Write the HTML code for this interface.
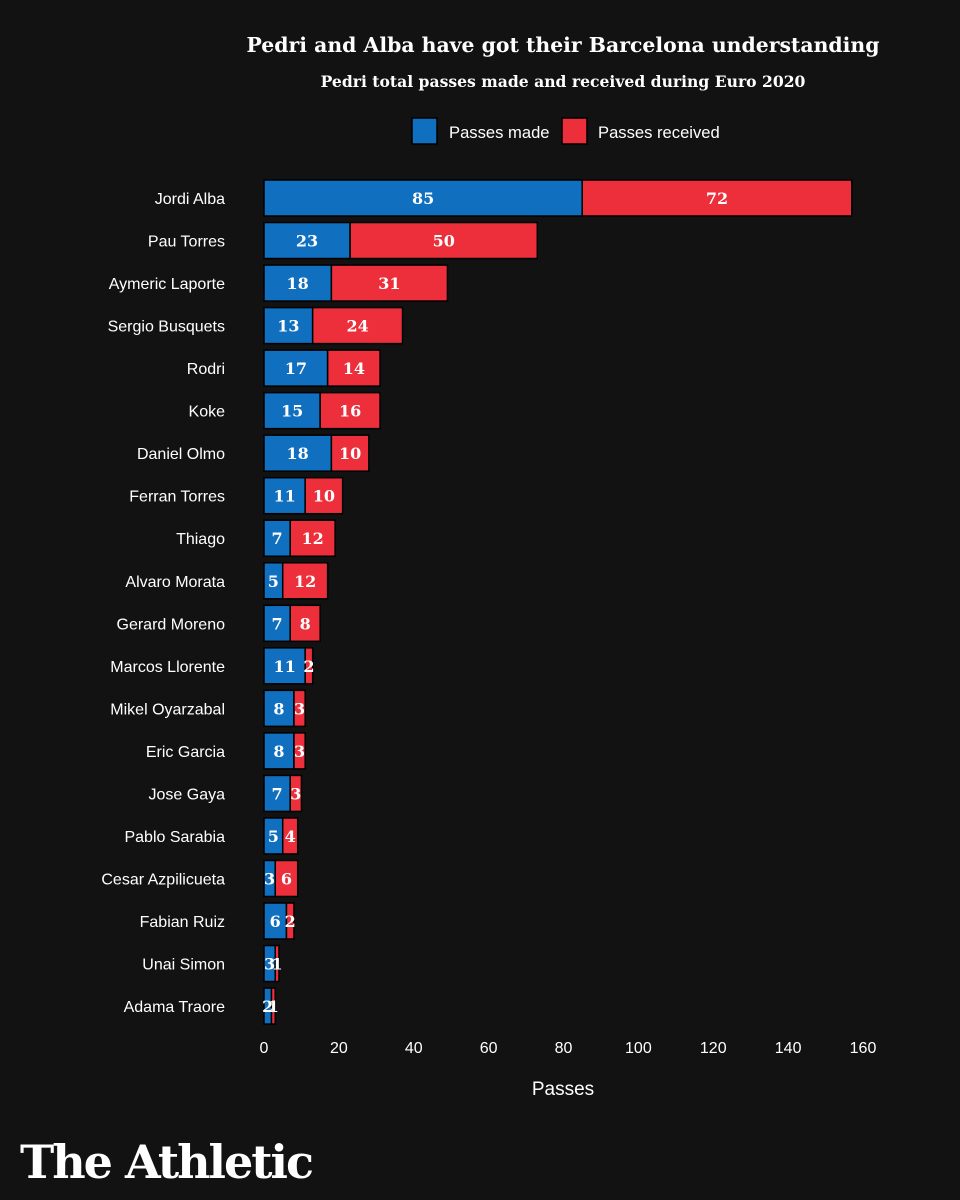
<!DOCTYPE html>
<html><head><meta charset="utf-8"><style>
html,body{margin:0;padding:0;background:#121212;}
svg{display:block;}
text{font-family:"Liberation Sans",sans-serif;}
.serif{font-family:"DejaVu Serif","Liberation Serif",serif;font-weight:bold;}
</style></head><body>
<svg id="chart" width="960" height="1200" viewBox="0 0 960 1200">
<rect width="960" height="1200" fill="#121212"/>
<text class="serif" x="563" y="52" text-anchor="middle" font-size="20.4" fill="#fff">Pedri and Alba have got their Barcelona understanding</text>
<text class="serif" x="563" y="87" text-anchor="middle" font-size="15.6" fill="#fff">Pedri total passes made and received during Euro 2020</text>
<g>
<rect x="412" y="118" width="25" height="26" fill="#106fbe" stroke="#000" stroke-width="1.5"/>
<text x="449" y="138" font-size="16.6" fill="#fff">Passes made</text>
<rect x="562" y="118" width="25" height="26" fill="#ec2f3b" stroke="#000" stroke-width="1.5"/>
<text x="598" y="138" font-size="16.6" fill="#fff">Passes received</text>
</g>
<g id="bars"></g>
<g id="xaxis"></g>
<text x="563" y="1095" text-anchor="middle" font-size="19" fill="#fff">Passes</text>
<text class="serif" x="20" y="1178" font-size="46" fill="#fff" letter-spacing="-2">The Athletic</text>
</svg>
<script>
const players = ["Jordi Alba","Pau Torres","Aymeric Laporte","Sergio Busquets","Rodri","Koke","Daniel Olmo","Ferran Torres","Thiago","Alvaro Morata","Gerard Moreno","Marcos Llorente","Mikel Oyarzabal","Eric Garcia","Jose Gaya","Pablo Sarabia","Cesar Azpilicueta","Fabian Ruiz","Unai Simon","Adama Traore"];
const made = [85,23,18,13,17,15,18,11,7,5,7,11,8,8,7,5,3,6,3,2];
const received = [72,50,31,24,14,16,10,10,12,12,8,2,3,3,3,4,6,2,1,1];
const ticks = [0,20,40,60,80,100,120,140,160];
const NS="http://www.w3.org/2000/svg";
const x = v => 264 + v*599/160;
const y = i => 198 + i*42.53;
const bh = 36;
const bars = document.getElementById('bars');
function mk(tag, attrs, parent){const e=document.createElementNS(NS,tag);for(const k in attrs)e.setAttribute(k,attrs[k]);parent.appendChild(e);return e;}
players.forEach((p,i)=>{
  const cy=y(i);
  const lab=mk('text',{x:225,y:cy+6,'text-anchor':'end','font-size':16,fill:'#fff'},bars);
  lab.textContent=p;
  
  
  const b1=mk('rect',{x:x(0),y:cy-bh/2,width:x(made[i])-x(0),height:bh,fill:'#106fbe',stroke:'#000','stroke-width':1.5},bars);
  
  
  const b2=mk('rect',{x:x(made[i]),y:cy-bh/2,width:x(made[i]+received[i])-x(made[i]),height:bh,fill:'#ec2f3b',stroke:'#000','stroke-width':1.5},bars);
  
  
  const t1=mk('text',{x:(x(0)+x(made[i]))/2,y:cy+6,'text-anchor':'middle','font-size':16,fill:'#fff',class:'serif'},bars);
  t1.textContent=made[i];
  
  
  const t2=mk('text',{x:(x(made[i])+x(made[i]+received[i]))/2,y:cy+6,'text-anchor':'middle','font-size':16,fill:'#fff',class:'serif'},bars);
  t2.textContent=received[i];
  
  
});
const xa=document.getElementById('xaxis');
ticks.forEach(t=>{
  const e=mk('text',{x:x(t),y:1053,'text-anchor':'middle','font-size':16,fill:'#fff'},xa);
  e.textContent=t;
  
  
});
</script>
</body></html>
